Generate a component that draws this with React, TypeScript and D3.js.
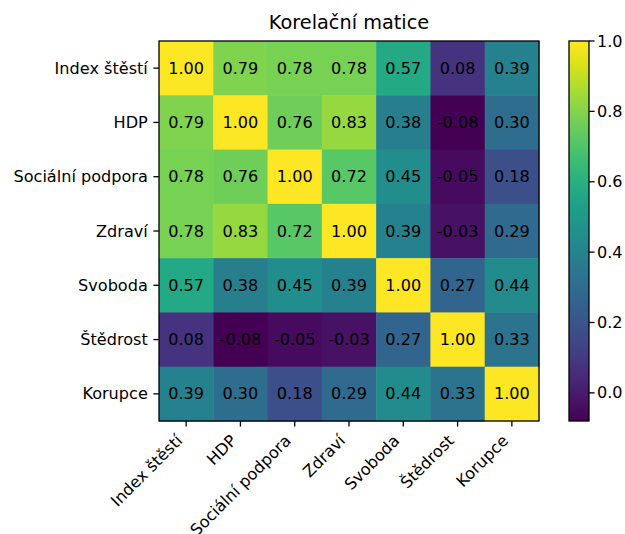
import * as d3 from "d3";
import React from "react";

const labels = ["Index štěstí", "HDP", "Sociální podpora", "Zdraví", "Svoboda", "Štědrost", "Korupce"];
const row0 = [1.0, 0.79, 0.78, 0.78, 0.57, 0.08, 0.39];
const row1 = [0.79, 1.0, 0.76, 0.83, 0.38, -0.08, 0.3];
const row2 = [0.78, 0.76, 1.0, 0.72, 0.45, -0.05, 0.18];
const row3 = [0.78, 0.83, 0.72, 1.0, 0.39, -0.03, 0.29];
const row4 = [0.57, 0.38, 0.45, 0.39, 1.0, 0.27, 0.44];
const row5 = [0.08, -0.08, -0.05, -0.03, 0.27, 1.0, 0.33];
const row6 = [0.39, 0.3, 0.18, 0.29, 0.44, 0.33, 1.0];
const colorbarTicks = [0.0, 0.2, 0.4, 0.6, 0.8, 1.0];

const rows = [row0, row1, row2, row3, row4, row5, row6];

const W = 625;
const H = 534;
const left = 159, right = 539, top = 41, bottom = 421;
const cbLeft = 569, cbRight = 589;
const font = "DejaVu Sans, sans-serif";
const fs = 16.1;
const tickLen = 5.6;
const lw = 1.3;

const App = () => {
    const x = d3.scaleBand<string>().domain(labels).range([left, right]);
    const y = d3.scaleBand<string>().domain(labels).range([top, bottom]);
    const vmin = d3.min(rows.flat()) as number;
    const vmax = d3.max(rows.flat()) as number;
    const color = d3.scaleSequential(d3.interpolateViridis).domain([vmin, vmax]);
    const cb = d3.scaleLinear().domain([vmin, vmax]).range([bottom, top]);

    const cells = rows.flatMap((r, i) => r.map((v, j) => ({row: labels[i], col: labels[j], v})));
    const stops = d3.range(0, 1.0001, 0.05);

    return (
        <svg width={W} height={H} style={{position: "absolute", left: 0, top: 0, background: "#fff"}}
             fontFamily={font}>
            <defs>
                <linearGradient id="cbgrad" x1="0" y1="1" x2="0" y2="0">
                    {stops.map(t => (
                        <stop key={t} offset={t} stopColor={d3.interpolateViridis(t)}/>
                    ))}
                </linearGradient>
            </defs>
            <text x={(left + right) / 2} y={29} textAnchor="middle" fontSize={19.3} fill="#000">
                Korelační matice
            </text>
            <g>
                {cells.map(c => (
                    <rect key={c.row + c.col} x={x(c.col)} y={y(c.row)} width={x.bandwidth() + 0.5}
                          height={y.bandwidth() + 0.5} fill={color(c.v)}/>
                ))}
                {cells.map(c => (
                    <text key={"t" + c.row + c.col} x={(x(c.col) as number) + x.bandwidth() / 2}
                          y={(y(c.row) as number) + y.bandwidth() / 2} dy="0.35em" textAnchor="middle"
                          fontSize={fs} fill="#000">
                        {c.v.toFixed(2)}
                    </text>
                ))}
            </g>
            <rect x={left} y={top} width={right - left} height={bottom - top} fill="none" stroke="#000"
                  strokeWidth={lw}/>
            {/* y axis */}
            {labels.map(l => {
                const cy = (y(l) as number) + y.bandwidth() / 2;
                return (
                    <g key={"y" + l}>
                        <line x1={left - tickLen} x2={left} y1={cy} y2={cy} stroke="#000" strokeWidth={lw}/>
                        <text x={left - 2 * tickLen} y={cy} dy="0.35em" textAnchor="end" fontSize={fs}
                              fill="#000">{l}</text>
                    </g>
                );
            })}
            {/* x axis */}
            {labels.map(l => {
                const cx = (x(l) as number) + x.bandwidth() / 2;
                const ax = cx - 2.7;
                const ay = bottom + 2 * tickLen + 9.5;
                return (
                    <g key={"x" + l}>
                        <line x1={cx} x2={cx} y1={bottom} y2={bottom + tickLen} stroke="#000" strokeWidth={lw}/>
                        <text x={ax} y={ay} textAnchor="end" fontSize={fs} fill="#000"
                              transform={`rotate(-45 ${ax} ${ay})`}>{l}</text>
                    </g>
                );
            })}
            {/* colorbar */}
            <rect x={cbLeft} y={top} width={cbRight - cbLeft} height={bottom - top} fill="url(#cbgrad)"
                  stroke="#000" strokeWidth={lw}/>
            {colorbarTicks.map(t => (
                <g key={"cb" + t}>
                    <line x1={cbRight} x2={cbRight + tickLen} y1={cb(t)} y2={cb(t)} stroke="#000"
                          strokeWidth={lw}/>
                    <text x={cbRight + 8} y={cb(t)} dy="0.35em" fontSize={fs}
                          fill="#000">{t.toFixed(1)}</text>
                </g>
            ))}
        </svg>
    );
};

export default App;
